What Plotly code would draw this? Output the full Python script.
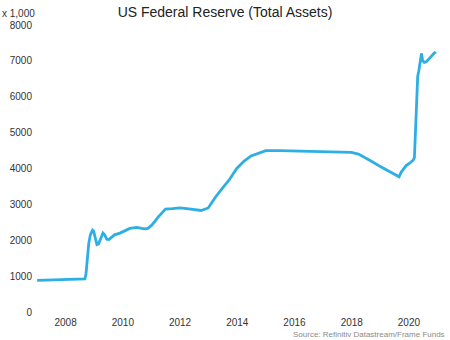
import plotly.graph_objects as go

dates = [
    "2007-01-03", "2007-04-01", "2007-07-01", "2007-10-01", "2008-01-01", "2008-04-01",
    "2008-07-01", "2008-09-03", "2008-09-17", "2008-10-01", "2008-10-22", "2008-11-12",
    "2008-12-10", "2008-12-24", "2009-01-14", "2009-02-04", "2009-02-25", "2009-03-25",
    "2009-04-22", "2009-05-13", "2009-06-10", "2009-07-08", "2009-08-12", "2009-09-16",
    "2009-11-25", "2010-01-13", "2010-03-31", "2010-06-30", "2010-09-29", "2010-11-17",
    "2011-01-05", "2011-03-30", "2011-06-29", "2011-09-28", "2011-12-28", "2012-03-28",
    "2012-06-27", "2012-09-26", "2012-12-26", "2013-03-27", "2013-06-26", "2013-09-25",
    "2013-12-25", "2014-03-26", "2014-06-25", "2014-09-24", "2014-12-31", "2015-06-24",
    "2015-12-30", "2016-06-29", "2016-12-28", "2017-06-28", "2017-12-27", "2018-03-28",
    "2018-06-27", "2018-09-26", "2018-12-26", "2019-03-27", "2019-06-26", "2019-08-28",
    "2019-09-25", "2019-11-27", "2020-01-29", "2020-02-26", "2020-03-11", "2020-03-18",
    "2020-03-25", "2020-04-01", "2020-04-08", "2020-04-15", "2020-04-22", "2020-05-06",
    "2020-05-27", "2020-06-10", "2020-06-24", "2020-07-15", "2020-08-12", "2020-09-09",
    "2020-10-14", "2020-11-11", "2020-12-09",
]
assets = [
    880, 885, 890, 885, 900, 895,
    905, 920, 1050, 1500, 1900, 2150,
    2280, 2250, 2050, 1880, 1900, 2080,
    2200, 2150, 2030, 2020, 2080, 2150,
    2200, 2250, 2330, 2360, 2320, 2330,
    2420, 2650, 2870, 2880, 2900, 2880,
    2860, 2830, 2900, 3200, 3450, 3700,
    4000, 4200, 4350, 4430, 4500, 4500,
    4490, 4480, 4470, 4470, 4450, 4400,
    4300, 4180, 4060, 3950, 3850, 3770,
    3900, 4080, 4180, 4240, 4300, 4670,
    5300, 5800, 6100, 6370, 6570, 6720,
    7100, 7210, 7000, 6960, 6980, 7050,
    7150, 7200, 7250,
]
xtick_vals = ["2008-01-01", "2010-01-01", "2012-01-01", "2014-01-01",
              "2016-01-01", "2018-01-01", "2020-01-01"]
xtick_text = ["2008", "2010", "2012", "2014", "2016", "2018", "2020"]
ytick_vals = [0, 1000, 2000, 3000, 4000, 5000, 6000, 7000, 8000]

FONT = "Liberation Sans, Arial, sans-serif"

fig = go.Figure(go.Scatter(
    x=dates, y=assets, mode="lines",
    line=dict(color="#2DAEE4", width=2.8),
    hoverinfo="skip",
))

fig.update_layout(
    width=450, height=340,
    margin=dict(l=37, r=3, t=25, b=28),
    paper_bgcolor="white", plot_bgcolor="white",
    showlegend=False,
    font=dict(family=FONT, size=10, color="#333333"),
    title=dict(text="US Federal Reserve (Total Assets)", x=0.5, xanchor="center",
               y=0.965, yanchor="middle", font=dict(size=14, color="#222222")),
    xaxis=dict(
        type="date", range=["2007-01-01", "2021-05-01"],
        tickvals=xtick_vals, ticktext=xtick_text,
        showgrid=False, zeroline=False, showline=False, ticks="",
        ticklabelstandoff=3,
    ),
    yaxis=dict(
        range=[0, 8000], tickvals=ytick_vals,
        showgrid=False, zeroline=False, showline=False, ticks="",
        ticklabelstandoff=4,
    ),
    annotations=[
        dict(text="x 1,000", xref="paper", yref="paper", x=0, y=1, xshift=-37,
             yshift=4, xanchor="left", yanchor="bottom", showarrow=False,
             font=dict(size=10, color="#333333")),
        dict(text="Source: Refinitiv Datastream/Frame Funds", xref="paper", yref="paper",
             x=1, y=0, yshift=-29, xanchor="right", yanchor="bottom", showarrow=False,
             font=dict(size=8, color="#8a8a8a")),
    ],
)

fig.write_html("out.html")
